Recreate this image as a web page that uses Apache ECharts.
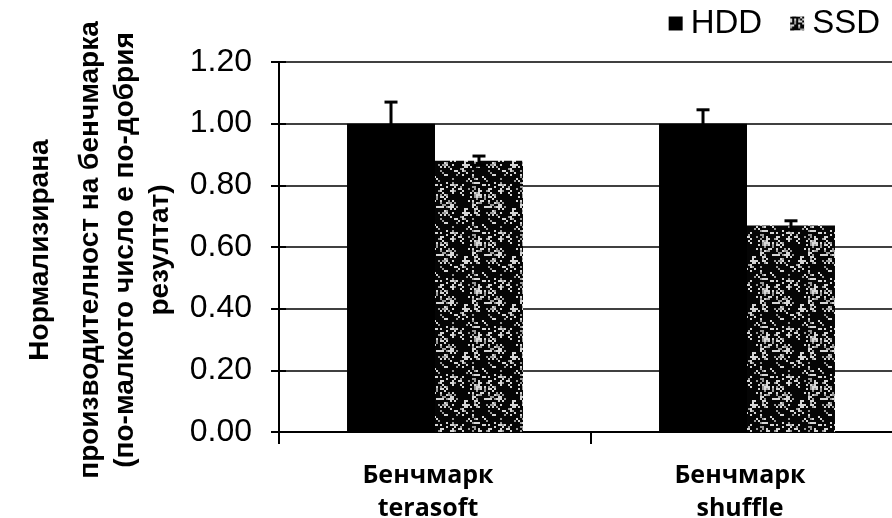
<!DOCTYPE html>
<html>
<head>
<meta charset="utf-8">
<script src="https://cdn.jsdelivr.net/npm/echarts@6/dist/echarts.min.js"></script>
<style>
  html, body { margin: 0; padding: 0; background: #fff; }
  #chart { width: 892px; height: 518px; }
</style>
</head>
<body>
<div id="chart"></div>
<script>
// Benchmark results, normalised to HDD (lower is better)
const categories = ['Бенчмарк\nterasoft', 'Бенчмарк\nshuffle'];
const seriesNames = ['HDD', 'SSD'];
const hddValues = [1.00, 1.00];
const ssdValues = [0.88, 0.67];
const hddErrors = [0.07, 0.045];
const ssdErrors = [0.015, 0.015];
const yTitleLines = [
  'Нормализирана',
  'производителност на бенчмарка',
  '(по-малкото число е по-добрия',
  'резултат)'
];

// Speckled grey-on-black fill used for the SSD bars
function speckleCanvas() {
  const w = 48, h = 48;
  const c = document.createElement('canvas');
  c.width = w; c.height = h;
  const ctx = c.getContext('2d');
  ctx.fillStyle = '#050505';
  ctx.fillRect(0, 0, w, h);
  for (let y = 0; y < h; y += 2) {
    for (let x = 0; x < w; x += 2) {
      const a = ((x * 374761393) ^ (y * 668265263) ^ 0x5bd1e995) >>> 0;
      const v = ((a ^ (a >>> 13)) * 1274126177) >>> 0;
      const r = (v >>> 8) % 100;
      // coarser blocks drive clustering of the light specks
      const bx = x >> 3, by = y >> 3;
      const b = (((bx * 2246822519) ^ (by * 3266489917)) >>> 0) % 100;
      const limit = b < 35 ? 45 : 12;
      if (r < limit * 0.55) { ctx.fillStyle = '#d6d6d6'; ctx.fillRect(x, y, 2, 2); }
      else if (r < limit) { ctx.fillStyle = '#9a9a9a'; ctx.fillRect(x, y, 2, 2); }
    }
  }
  return c;
}
const ssdFill = { image: speckleCanvas(), repeat: 'repeat' };

const chart = echarts.init(document.getElementById('chart'), null, { renderer: 'canvas' });

const barOffsetRatio = 0.141; // half a bar width, as a share of the category band

function errorBarRenderer(sideSign, values, errors) {
  return function (params, api) {
    const idx = api.value(0);
    const val = values[idx];
    const err = errors[idx];
    const band = api.size([1, 0])[0];
    const cx = api.coord([idx, val])[0] + sideSign * band * barOffsetRatio;
    const yTop = api.coord([idx, val + err])[1];
    const yBot = api.coord([idx, val - err])[1];
    const cap = 6.5;
    const style = { stroke: '#000', lineWidth: 3 };
    return {
      type: 'group',
      children: [
        { type: 'line', shape: { x1: cx, y1: yTop, x2: cx, y2: yBot }, style: style },
        { type: 'line', shape: { x1: cx - cap, y1: yTop, x2: cx + cap, y2: yTop }, style: style },
        { type: 'line', shape: { x1: cx - cap, y1: yBot, x2: cx + cap, y2: yBot }, style: style }
      ]
    };
  };
}

const option = {
  animation: false,
  backgroundColor: '#fff',
  legend: {
    right: 7,
    top: 2,
    itemWidth: 14,
    itemHeight: 14,
    itemGap: 28,
    icon: 'rect',
    textStyle: { fontFamily: 'Liberation Sans, Arial', fontSize: 33, color: '#000', padding: [0, 0, 0, 3] },
    data: seriesNames
  },
  grid: { left: 279, width: 624, top: 62, bottom: 86, containLabel: false, outerBoundsMode: 'none' },
  xAxis: {
    type: 'category',
    data: categories,
    axisLine: { lineStyle: { color: '#000', width: 2 } },
    axisTick: { show: true, length: 12, lineStyle: { color: '#000', width: 2 } },
    axisLabel: {
      color: '#000',
      fontFamily: 'Open Sans, Noto Sans, sans-serif',
      fontWeight: 'bold',
      fontSize: 25,
      lineHeight: 33,
      margin: 27,
      padding: [0, 14, 0, 0]
    }
  },
  yAxis: [{
    type: 'value',
    min: 0,
    max: 1.2,
    interval: 0.2,
    axisLine: { show: true, lineStyle: { color: '#000', width: 2 } },
    axisTick: { show: true, length: 8, lineStyle: { color: '#000', width: 2 } },
    splitLine: { show: true, lineStyle: { color: '#000', width: 1.5 } },
    axisLabel: {
      color: '#000',
      fontFamily: 'Liberation Sans, Arial',
      fontSize: 32,
      margin: 27,
      formatter: function (v) { return v.toFixed(2); }
    }
  }, {
    type: 'value',
    position: 'left',
    min: 0,
    max: 1.2,
    interval: 0.2,
    axisLine: { show: false },
    axisTick: { show: true, inside: true, length: 7, lineStyle: { color: '#000', width: 2 } },
    splitLine: { show: false },
    axisLabel: { show: false }
  }],
  series: [
    {
      name: 'HDD',
      type: 'bar',
      data: hddValues,
      barGap: '0%',
      barCategoryGap: '43.6%',
      itemStyle: { color: '#000' }
    },
    {
      name: 'SSD',
      type: 'bar',
      data: ssdValues,
      barGap: '0%',
      barCategoryGap: '43.6%',
      itemStyle: { color: ssdFill }
    },
    {
      type: 'custom',
      silent: true,
      data: hddValues.map(function (v, i) { return [i, v]; }),
      renderItem: errorBarRenderer(-1, hddValues, hddErrors),
      z: 5
    },
    {
      type: 'custom',
      silent: true,
      data: ssdValues.map(function (v, i) { return [i, v]; }),
      renderItem: errorBarRenderer(1, ssdValues, ssdErrors),
      z: 5
    }
  ],
  graphic: yTitleLines.map(function (line, i) {
    const xs = [40, 90, 125, 160];
    return {
      type: 'text',
      x: xs[i],
      y: 250,
      rotation: Math.PI / 2,
      style: {
        text: line,
        fill: '#000',
        font: 'bold 28px "Liberation Sans", Arial, sans-serif',
        textAlign: 'center',
        textVerticalAlign: 'middle'
      }
    };
  })
};

chart.setOption(option);
</script>
</body>
</html>
